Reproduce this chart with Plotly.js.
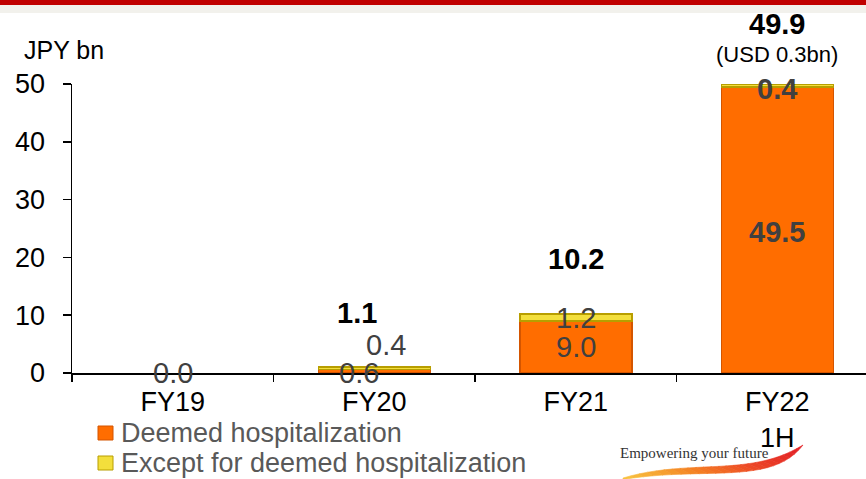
<!DOCTYPE html>
<html>
<head>
<meta charset="utf-8">
<script src="https://cdn.plot.ly/plotly-3.0.1.min.js"></script>
<style>
  html, body { margin: 0; padding: 0; background: #ffffff; }
  #chart { width: 866px; height: 479px; }
</style>
</head>
<body>
<div id="chart"></div>
<script>
// Payouts by fiscal year, JPY bn
const categories = ['FY19', 'FY20', 'FY21', 'FY22<br>1H'];
const deemed = [0.0, 0.6, 9.0, 49.5];
const exceptDeemed = [0.0, 0.4, 1.2, 0.4];
const totals = [null, 1.1, 10.2, 49.9];
const usdNote = '(USD 0.3bn)';
const seriesNames = ['Deemed hospitalization', 'Except for deemed hospitalization'];
const seriesColors = ['#FF6D00', '#F3DF3C'];
const seriesEdges = ['#D45500', '#B89E00'];

const W = 866, H = 479;
const M = { l: 72, r: 0, t: 84, b: 106, autoexpand: false };
const plotW = W - M.l - M.r, plotH = H - M.t - M.b;
const px = x => (x - M.l) / plotW;
const py = y => (H - M.b - y) / plotH;

const FONT = 'Liberation Sans, Arial, sans-serif';
const GRAY = '#404040';

const edgeWidth = v => v.map(d => (d > 0 ? 1.5 : 0));

const traces = [
  {
    type: 'bar', name: seriesNames[0], x: categories, y: deemed,
    marker: { color: seriesColors[0], line: { color: seriesEdges[0], width: edgeWidth(deemed) } },
    hoverinfo: 'skip', showlegend: false
  },
  {
    type: 'bar', name: seriesNames[1], x: categories, y: exceptDeemed,
    marker: { color: seriesColors[1], line: { color: seriesEdges[1], width: edgeWidth(exceptDeemed) } },
    hoverinfo: 'skip', showlegend: false
  }
];

// label placement tweaks (pixels) per category
const deemedShift = [{ x: 0, y: 0 }, { x: -15, y: -2 }, { x: 0, y: 0 }, { x: 0, y: -2 }];
const exceptShift = [{ x: 0, y: 0 }, { x: 12, y: 23 }, { x: 0, y: 0 }, { x: 0, y: -3 }];
const totalShift = [{ x: 0, y: 0 }, { x: -17, y: 54 }, { x: 0, y: 55 }, { x: 0, y: 61 }];
const boldDeemed = [false, false, false, true];

const annotations = [];
categories.forEach((c, i) => {
  annotations.push({
    x: c, y: deemed[i] / 2, xref: 'x', yref: 'y', showarrow: false,
    text: boldDeemed[i] ? '<b>' + deemed[i].toFixed(1) + '</b>' : deemed[i].toFixed(1),
    font: { family: FONT, size: 29, color: GRAY },
    xshift: deemedShift[i].x, yshift: deemedShift[i].y
  });
  if (exceptDeemed[i] > 0) {
    annotations.push({
      x: c, y: deemed[i] + exceptDeemed[i] / 2, xref: 'x', yref: 'y', showarrow: false,
      text: boldDeemed[i] ? '<b>' + exceptDeemed[i].toFixed(1) + '</b>' : exceptDeemed[i].toFixed(1),
      font: { family: FONT, size: 29, color: GRAY },
      xshift: exceptShift[i].x, yshift: exceptShift[i].y
    });
  }
  if (totals[i] !== null) {
    annotations.push({
      x: c, y: totals[i], xref: 'x', yref: 'y', showarrow: false,
      text: '<b>' + totals[i].toFixed(1) + '</b>',
      font: { family: FONT, size: 29, color: '#000000' },
      xshift: totalShift[i].x, yshift: totalShift[i].y
    });
  }
});
const last = categories.length - 1;
annotations.push({
  x: categories[last], y: totals[last], xref: 'x', yref: 'y', showarrow: false,
  text: usdNote, font: { family: FONT, size: 22, color: '#000000' }, yshift: 30
});
annotations.push({
  x: px(22), y: py(50), xref: 'paper', yref: 'paper', xanchor: 'left', yanchor: 'middle',
  showarrow: false, text: 'JPY bn', font: { family: FONT, size: 25, color: '#000000' }
});
annotations.push({
  x: px(694), y: py(453), xref: 'paper', yref: 'paper', xanchor: 'center', yanchor: 'middle',
  showarrow: false, text: 'Empowering your future',
  font: { family: 'Liberation Serif, Times New Roman, serif', size: 15, color: '#333333' }
});

const shapes = [
  // header bands
  { type: 'rect', xref: 'paper', yref: 'paper', x0: px(0), x1: px(W), y0: py(5), y1: py(0),
    fillcolor: '#C00000', line: { width: 0 }, layer: 'below' },
  { type: 'rect', xref: 'paper', yref: 'paper', x0: px(0), x1: px(W), y0: py(13), y1: py(5),
    fillcolor: '#F2F1EC', line: { width: 0 }, layer: 'below' }
];

// legend: coloured keys with labels
seriesNames.forEach((name, i) => {
  const cy = 433 + i * 30;
  shapes.push({ type: 'rect', xref: 'paper', yref: 'paper',
    x0: px(98), x1: px(113), y0: py(cy + 7), y1: py(cy - 7),
    fillcolor: seriesColors[i], line: { color: seriesEdges[i], width: 1 } });
  annotations.push({ x: px(119), y: py(cy), xref: 'paper', yref: 'paper',
    xanchor: 'left', yanchor: 'middle', showarrow: false, text: name,
    font: { family: FONT, size: 27, color: '#595959' } });
});

// logo swoosh: two cubic edges, filled in colour steps from yellow to red
function cubic(p, t) {
  const a = (1 - t) ** 3, b = 3 * (1 - t) ** 2 * t, c = 3 * (1 - t) * t * t, d = t ** 3;
  return [a * p[0][0] + b * p[1][0] + c * p[2][0] + d * p[3][0],
          a * p[0][1] + b * p[1][1] + c * p[2][1] + d * p[3][1]];
}
const upperEdge = [[623, 478], [690, 458], [750, 478], [803, 445]];
const lowerEdge = [[623, 479.5], [705, 466], [772, 486], [803, 445]];
const stops = [[248, 196, 64], [244, 130, 34], [236, 70, 38], [226, 30, 38]];
function mix(t) {
  const s = t * (stops.length - 1), k = Math.min(Math.floor(s), stops.length - 2), f = s - k;
  const c = stops[k].map((v, j) => Math.round(v + (stops[k + 1][j] - v) * f));
  return 'rgb(' + c.join(',') + ')';
}
const N = 24;
for (let i = 0; i < N; i++) {
  const t0 = i / N, t1 = (i + 1) / N;
  const pts = [cubic(upperEdge, t0), cubic(upperEdge, t1), cubic(lowerEdge, t1), cubic(lowerEdge, t0)];
  const d = pts.map((p, k) => (k ? 'L' : 'M') + px(p[0]) + ',' + py(p[1])).join(' ') + ' Z';
  const col = mix((t0 + t1) / 2);
  shapes.push({ type: 'path', xref: 'paper', yref: 'paper', path: d,
    fillcolor: col, line: { width: 0.6, color: col } });
}

const layout = {
  width: W, height: H,
  margin: M,
  paper_bgcolor: '#ffffff', plot_bgcolor: '#ffffff',
  barmode: 'stack', bargap: 0.444,
  font: { family: FONT, color: '#000000' },
  showlegend: false,
  xaxis: {
    type: 'category', range: [-0.5, 3.44], fixedrange: true,
    showline: true, linecolor: '#000000', linewidth: 2,
    ticks: 'outside', tickson: 'boundaries', ticklen: 7, tickcolor: '#000000', tickwidth: 1.5,
    tickfont: { family: FONT, size: 27, color: '#000000' }, ticklabelstandoff: 4,
    showgrid: false, zeroline: false
  },
  yaxis: {
    range: [0, 50], dtick: 10, fixedrange: true,
    showline: true, linecolor: '#000000', linewidth: 1.5,
    ticks: 'outside', ticklen: 8, tickcolor: '#000000', tickwidth: 1.5,
    tickfont: { family: FONT, size: 27, color: '#000000' }, ticklabelstandoff: 12,
    showgrid: false, zeroline: false
  },
  annotations: annotations,
  shapes: shapes
};

Plotly.newPlot('chart', traces, layout, { staticPlot: true, displayModeBar: false });
</script>
</body>
</html>
